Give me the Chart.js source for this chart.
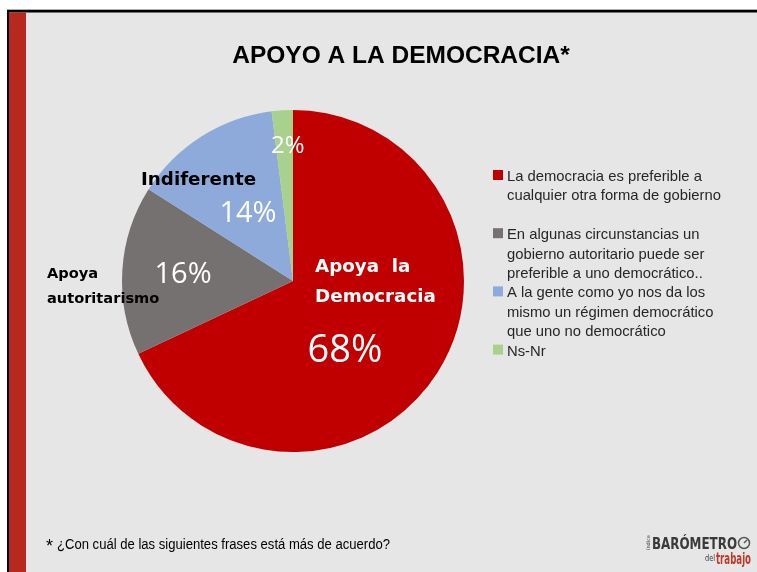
<!DOCTYPE html>
<html>
<head>
<meta charset="utf-8">
<script src="https://cdn.jsdelivr.net/npm/chart.js"></script>
<style>
  html, body { margin: 0; padding: 0; background: #ffffff; }
  canvas { display: block; }
</style>
</head>
<body>
<canvas id="pieChart" width="757" height="572"></canvas>
<script type="text/javascript">

// chart data
const categories = [
    'La democracia es preferible a cualquier otra forma de gobierno',
    'En algunas circunstancias un gobierno autoritario puede ser preferible a uno democrático..',
    'A la gente como yo nos da los mismo un régimen democrático que uno no democrático',
    'Ns-Nr'
];
const legendLines = [
    ['La democracia es preferible a', 'cualquier otra forma de gobierno', ''],
    ['En algunas circunstancias un', 'gobierno autoritario puede ser', 'preferible a uno democrático..'],
    ['A la gente como yo nos da los', 'mismo un régimen democrático', 'que uno no democrático'],
    ['Ns-Nr']
];
const values = [68, 16, 14, 2];
const sliceNames = [['Apoya  la', 'Democracia'], ['Apoya', 'autoritarismo'], ['Indiferente'], []];
const sliceColors = ['#c00000', '#767171', '#8eaadb', '#a9d18e'];
const titleText = 'APOYO A LA DEMOCRACIA*';
const footnoteText = '¿Con cuál de las siguientes frases está más de acuerdo?';

// label placement, in units of the pie radius from its centre
const pctPos = [[0.304, 0.474, 38], [-0.643, 0.012, 29], [-0.263, -0.345, 29], [-0.03, -0.749, 24]];
const namePos = [
    { x: 0.129, y: [-0.053, 0.123], color: '#ffffff', size: 18.3 },
    { x: -1.439, y: [-0.018, 0.129], color: '#000000', size: 14.6 },
    { x: -0.889, y: [-0.561], color: '#000000', size: 18.3 },
    null
];

const slideBackground = {
    id: 'slideBackground',
    beforeDraw(chart) {
        const ctx = chart.ctx;
        const w = chart.width, h = chart.height;
        ctx.save();
        ctx.fillStyle = '#ffffff';
        ctx.fillRect(0, 0, w, h);
        ctx.fillStyle = '#e6e6e6';
        ctx.fillRect(9, 12, w - 9, h - 12);
        ctx.fillStyle = '#b0b0b0';
        ctx.fillRect(7, 9, w - 7, 1);
        ctx.fillStyle = '#000000';
        ctx.fillRect(7, 10, w - 7, 2.5);
        ctx.fillRect(7, 10, 2, h - 10);
        ctx.fillStyle = '#b8281e';
        ctx.fillRect(9, 12.5, 17, h - 12.5);
        ctx.restore();
    }
};

// draw text squeezed or stretched to a given width
function fitText(ctx, text, x, y, width) {
    const tw = ctx.measureText(text).width;
    ctx.save();
    ctx.translate(x, y);
    ctx.scale(width / tw, 1);
    ctx.fillText(text, 0, 0);
    ctx.restore();
}

const slideText = {
    id: 'slideText',
    afterDraw(chart) {
        const ctx = chart.ctx;
        const arc = chart.getDatasetMeta(0).data[0];
        const cx = arc.x, cy = arc.y, r = arc.outerRadius;
        ctx.save();

        // title
        ctx.fillStyle = '#000000';
        ctx.textAlign = 'center';
        ctx.textBaseline = 'alphabetic';
        ctx.font = 'bold 24.5px "Liberation Sans", Arial, sans-serif';
        ctx.fillText(titleText, 401, 63);

        // percentages inside slices
        values.forEach((v, i) => {
            const p = pctPos[i];
            ctx.fillStyle = '#ffffff';
            ctx.textAlign = 'center';
            ctx.font = p[2] + 'px "Open Sans", sans-serif';
            ctx.fillText(v + '%', cx + p[0] * r, cy + p[1] * r);
        });

        // category names
        sliceNames.forEach((lines, i) => {
            const p = namePos[i];
            if (!p) return;
            ctx.fillStyle = p.color;
            ctx.textAlign = 'left';
            ctx.font = 'bold ' + p.size + 'px "DejaVu Sans", sans-serif';
            lines.forEach((t, j) => ctx.fillText(t, cx + p.x * r, cy + p.y[j] * r));
        });

        // legend
        let line = 0;
        ctx.font = '14.8px "Liberation Sans", Arial, sans-serif';
        ctx.textAlign = 'left';
        legendLines.forEach((lines, i) => {
            const base = 181 + line * 19.4;
            ctx.fillStyle = sliceColors[i];
            ctx.fillRect(493, base - 11, 10, 10);
            ctx.fillStyle = '#262626';
            lines.forEach((t, j) => ctx.fillText(t, 507, 181 + (line + j) * 19.4));
            line += lines.length;
        });

        // footnote
        ctx.fillStyle = '#000000';
        ctx.font = '18px "Liberation Sans", Arial, sans-serif';
        ctx.fillText('*', 46, 552);
        ctx.font = '15.5px "Liberation Sans", Arial, sans-serif';
        fitText(ctx, footnoteText, 57, 549, 333);

        // logo
        ctx.fillStyle = '#3a3a3a';
        ctx.font = 'bold 16px "DejaVu Sans Condensed", "DejaVu Sans", sans-serif';
        fitText(ctx, 'BARÓMETRO', 652, 549, 85);
        ctx.font = '5px "DejaVu Sans", sans-serif';
        ctx.save();
        ctx.translate(650, 550);
        ctx.rotate(-Math.PI / 2);
        ctx.fillText('índice', 0, 0);
        ctx.restore();
        ctx.strokeStyle = '#555555';
        ctx.lineWidth = 1.5;
        ctx.beginPath();
        ctx.arc(744, 543, 5.5, 0, Math.PI * 2);
        ctx.stroke();
        ctx.beginPath();
        ctx.moveTo(744, 543);
        ctx.lineTo(747, 540);
        ctx.stroke();
        ctx.fillStyle = '#3a3a3a';
        ctx.font = '8px "DejaVu Sans Condensed", "DejaVu Sans", sans-serif';
        fitText(ctx, 'del', 705, 561, 10);
        ctx.fillStyle = '#c0392b';
        ctx.font = 'bold 15px "DejaVu Sans Condensed", "DejaVu Sans", sans-serif';
        fitText(ctx, 'trabajo', 716, 564, 35);

        ctx.restore();
    }
};

const ctx = document.getElementById('pieChart').getContext('2d');
const myChart = new Chart(ctx, {
    type: 'pie',
    data: {
        labels: categories,
        datasets: [{
            data: values,
            backgroundColor: sliceColors,
            borderWidth: 0,
        }],
    },
    options: {
        responsive: false,
        maintainAspectRatio: false,
        devicePixelRatio: 1,
        animation: false,
        layout: {
            padding: { left: 122, right: 293, top: 110, bottom: 120 },
        },
        plugins: {
            legend: { display: false },
            title: { display: false },
            tooltip: { enabled: false },
        },
    },
    plugins: [slideBackground, slideText],
});
</script>
</body>
</html>
